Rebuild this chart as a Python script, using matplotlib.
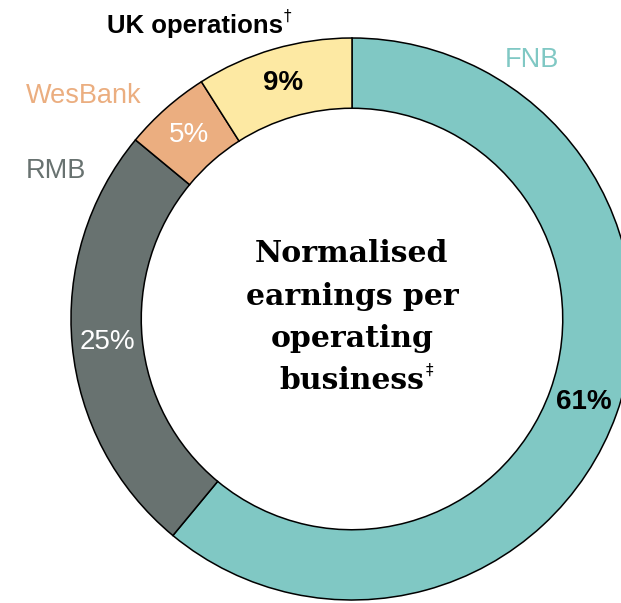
import matplotlib
matplotlib.use('Agg')
import matplotlib.pyplot as plt
import numpy as np

# Normalised earnings share per operating business (%)
SEGMENTS = ['FNB', 'RMB', 'WesBank', 'UK operations']
SHARES = [61, 25, 5, 9]
PCT_LABELS = ['61%', '25%', '5%', '9%']
COLORS = ['#80C8C4', '#687270', '#EBAE80', '#FDE9A3']
PCT_COLORS = ['black', 'white', 'white', 'black']

W, H = 621, 603
CX, CY, R = 352, 319, 281   # pixel centre / outer radius
RING = 0.25

SANS = 'Liberation Sans'
SERIF = 'DejaVu Serif'


def py(y):
    """pixel row (top origin) -> data y"""
    return H - y


fig = plt.figure(figsize=(W / 100, H / 100), dpi=100)
ax = fig.add_axes([0, 0, 1, 1])

wedges, _ = ax.pie(SHARES, colors=COLORS, startangle=90, counterclock=False,
                   center=(CX, py(CY)), radius=R,
                   wedgeprops={'width': R * RING, 'edgecolor': 'black',
                               'linewidth': 1.1})

# percentage labels in the middle of the ring
for w, lab, c in zip(wedges, PCT_LABELS, PCT_COLORS):
    ang = np.deg2rad((w.theta1 + w.theta2) / 2)
    rr = R * 0.875
    ax.text(CX + rr * np.cos(ang), py(CY) + rr * np.sin(ang), lab,
            ha='center', va='center', color=c, fontsize=20,
            family=SANS, fontweight='bold' if c == 'black' else 'normal')

# segment names
ax.text(505, py(67), 'FNB', color=COLORS[0], fontsize=19.5, family=SANS,
        ha='left', va='baseline')
ax.text(26, py(178), 'RMB', color=COLORS[1], fontsize=19.5, family=SANS,
        ha='left', va='baseline')
ax.text(26, py(103), 'WesBank', color=COLORS[2], fontsize=19.5, family=SANS,
        ha='left', va='baseline')
uk = ax.text(107, py(33), 'UK operations', color='black', fontsize=18.5,
             family=SANS, fontweight='bold', ha='left', va='baseline')

# centre title
lines = ['Normalised', 'earnings per', 'operating', 'business']
baselines = [262, 305, 347, 389]
txts = []
for s, b in zip(lines, baselines):
    txts.append(ax.text(CX, py(b), s, ha='center', va='baseline',
                        fontsize=21.5, family=SERIF, fontweight='bold'))

ax.set_xlim(0, W)
ax.set_ylim(0, H)
ax.set_aspect('auto')
ax.axis('off')

# superscript marks after the texts
fig.canvas.draw()
inv = ax.transData.inverted()
for t, mark, dy in [(uk, '\u2020', 12), (txts[-1], '\u2021', 14)]:
    bb = t.get_window_extent()
    x1, _ = inv.transform((bb.x1, bb.y0))
    _, yb = t.get_position()
    ax.text(x1 + 1, yb + dy, mark, ha='left', va='baseline', fontsize=11,
            family='DejaVu Sans', color='black')

fig.savefig('out.png', dpi=100)
